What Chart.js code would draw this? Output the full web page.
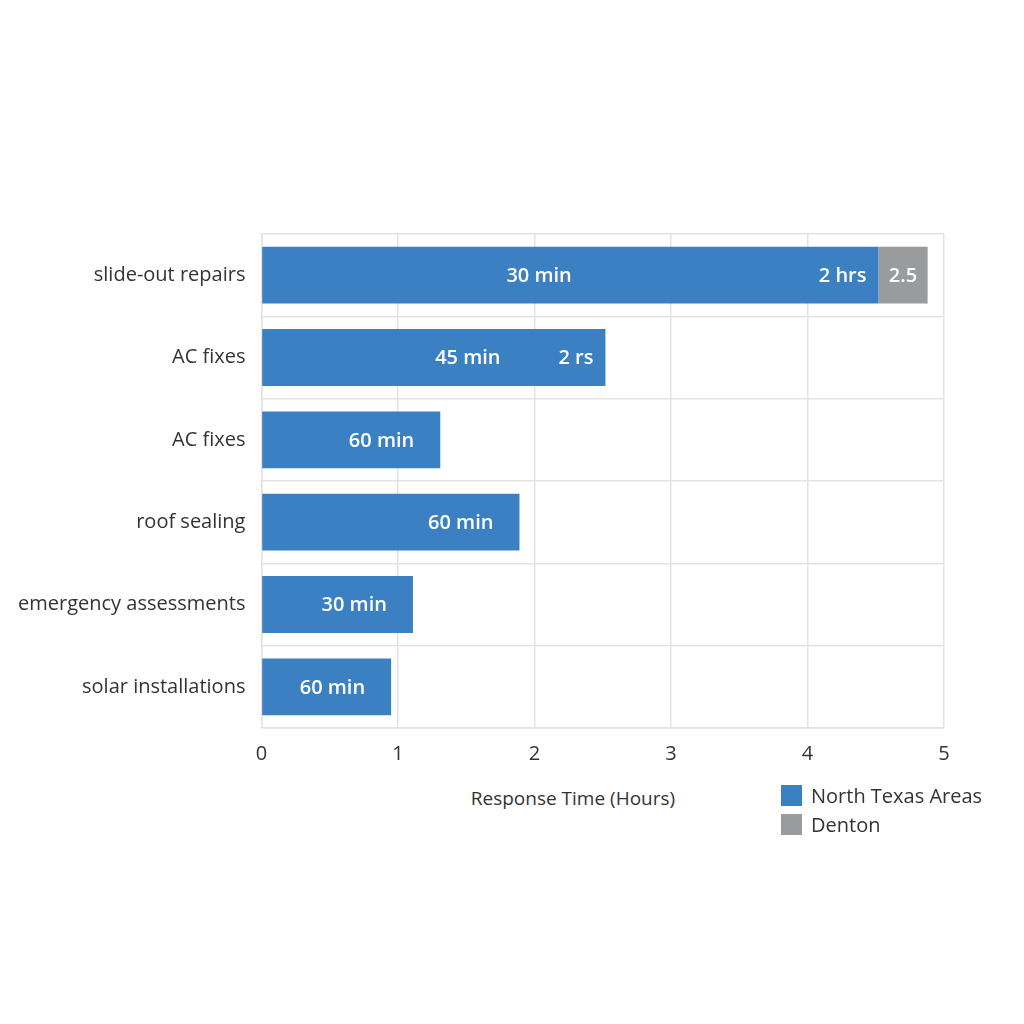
<!DOCTYPE html>
<html>
<head>
<meta charset="utf-8">
<script src="https://cdn.jsdelivr.net/npm/chart.js@4"></script>
<style>
  html, body { margin:0; padding:0; background:#ffffff; }
  #wrap { position:absolute; left:0; top:0; width:1024px; height:784px; }
  #legend { position:absolute; left:781px; top:781px; font-family:"Open Sans", sans-serif; font-size:20px; color:#333; }
  #legend .item { display:flex; align-items:center; height:29px; }
  #legend .box { width:21px; height:21px; margin-right:9px; }
  #xtitle { position:absolute; left:373px; width:400px; top:785px; text-align:center; font-family:"Open Sans", sans-serif; font-size:19px; color:#333; }
</style>
</head>
<body>
<div id="wrap"><canvas id="c"></canvas></div>
<div id="xtitle"></div>
<div id="legend"></div>
<script>
const categories = ["slide-out repairs", "AC fixes", "AC fixes", "roof sealing", "emergency assessments", "solar installations"];
const northTexas = [4.52, 2.52, 1.31, 1.89, 1.11, 0.95];
const denton = [0.36, 0, 0, 0, 0, 0];
const mainLabels = ["30 min", "45 min", "60 min", "60 min", "30 min", "60 min"];
const endLabels = ["2 hrs", "2 rs", "", "", "", ""];
const dentonLabels = ["2.5", "", "", "", "", ""];
const xTicks = [0, 1, 2, 3, 4, 5];
const seriesNames = ["North Texas Areas", "Denton"];
const xTitle = "Response Time (Hours)";
const colors = ["#3b80c2", "#9a9b9d"];

const FONT = "'Open Sans', sans-serif";

const barLabelPlugin = {
  id: 'barLabels',
  afterDatasetsDraw(chart, args, opts) {
    const ctx = chart.ctx;
    const m0 = chart.getDatasetMeta(0);
    const m1 = chart.getDatasetMeta(1);
    const xs = chart.scales.x;
    ctx.save();
    ctx.fillStyle = '#ffffff';
    ctx.font = '600 20px ' + FONT;
    ctx.textBaseline = 'middle';
    m0.data.forEach((bar, i) => {
      const y = bar.y + 1;
      const start = xs.getPixelForValue(0);
      const end = bar.x;
      if (endLabels[i]) {
        ctx.textAlign = 'right';
        ctx.fillText(endLabels[i], end - opts.endPad, y);
        ctx.textAlign = 'center';
        ctx.fillText(mainLabels[i], start + (end - start) * opts.mainFrac[i], y);
      } else {
        ctx.textAlign = 'right';
        ctx.fillText(mainLabels[i], end - opts.mainPad, y);
      }
      if (dentonLabels[i]) {
        const b = m1.data[i];
        ctx.textAlign = 'center';
        ctx.fillText(dentonLabels[i], (b.base + b.x) / 2, y);
      }
    });
    ctx.restore();
  }
};

new Chart(document.getElementById('c'), {
  type: 'bar',
  data: {
    labels: categories,
    datasets: [
      { label: seriesNames[0], data: northTexas, backgroundColor: colors[0], categoryPercentage: 0.69, barPercentage: 1.0, borderWidth: 0 },
      { label: seriesNames[1], data: denton, backgroundColor: colors[1], categoryPercentage: 0.69, barPercentage: 1.0, borderWidth: 0 }
    ]
  },
  options: {
    indexAxis: 'y',
    responsive: true,
    maintainAspectRatio: false,
    animation: false,
    layout: { padding: { left: 2, right: 80, top: 234, bottom: 4 } },
    plugins: {
      legend: { display: false },
      tooltip: { enabled: false },
      barLabels: { endPad: 12, mainPad: 26, mainFrac: [0.45, 0.6] }
    },
    scales: {
      x: {
        stacked: true,
        min: 0, max: 5,
        afterBuildTicks: (s) => { s.ticks = xTicks.map(v => ({ value: v })); },
        grid: { color: '#e3e3e3', lineWidth: 1.5, drawTicks: false },
        border: { color: '#e3e3e3', width: 1.5 },
        ticks: { color: '#333', font: { family: FONT, size: 20 }, padding: 14 }
      },
      y: {
        stacked: true,
        grid: { color: '#e3e3e3', lineWidth: 1.5, drawTicks: false, offset: true },
        border: { color: '#e3e3e3', width: 1.5 },
        ticks: { color: '#333', font: { family: FONT, size: 20 }, padding: 16 }
      }
    }
  },
  plugins: [barLabelPlugin]
});

document.getElementById('xtitle').textContent = xTitle;
const lg = document.getElementById('legend');
seriesNames.forEach((n, i) => {
  const d = document.createElement('div');
  d.className = 'item';
  d.innerHTML = '<span class="box" style="background:' + colors[i] + '"></span><span>' + n + '</span>';
  lg.appendChild(d);
});
</script>
</body>
</html>
